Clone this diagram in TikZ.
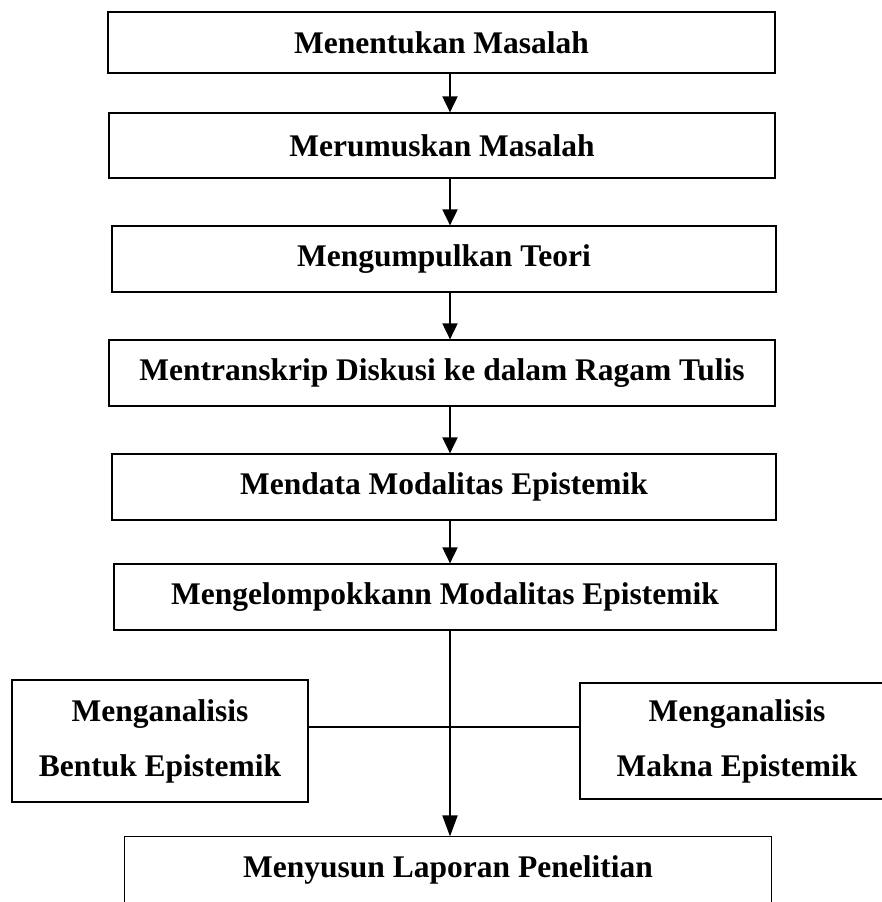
\documentclass[tikz,border=0pt]{standalone}
\usepackage{fontspec}
\setmainfont{Liberation Serif}
\usetikzlibrary{arrows.meta}
\begin{document}
\begin{tikzpicture}[x=1pt,y=-1pt,
  box/.style={draw=black, line width=1.2pt, inner sep=0pt, font=\fontsize{31.5}{55}\selectfont\bfseries, align=center},
  boxl/.style={draw=black, line width=1.2pt},
  arr/.style={line width=1.9pt, -{Triangle[width=15pt,length=16pt]}},
  bigarr/.style={line width=1.9pt, -{Triangle[width=15pt,length=21pt]}},
  conn/.style={line width=1.9pt},
  ]
\useasboundingbox (0,0) rectangle (882,902);
\clip (0,0) rectangle (882,902);
\coordinate (ax) at (450,0);
\coordinate (hy) at (0,727);
\node[box, minimum width=667pt, minimum height=61pt] (b1) at (441.5,42.5) {Menentukan Masalah};
\node[box, minimum width=666pt, minimum height=65pt] (b2) at (442,145.5) {Merumuskan Masalah};
\node[box, minimum width=664pt, minimum height=66pt] (b3) at (444,259) {Mengumpulkan Teori};
\node[box, minimum width=666pt, minimum height=66pt] (b4) at (442,373) {Mentranskrip Diskusi ke dalam Ragam Tulis};
\node[box, minimum width=664pt, minimum height=66pt] (b5) at (444,487) {Mendata Modalitas Epistemik};
\node[box, minimum width=662pt, minimum height=66pt] (b6) at (445,597) {Mengelompokkann Modalitas Epistemik};
\node[box, minimum width=296pt, minimum height=122pt] (lb) at (160,741) {Menganalisis\\Bentuk Epistemik};
\node[box, minimum width=314pt, minimum height=116pt] (rb) at (737,741) {Menganalisis\\Makna Epistemik};
\node[box, draw=none, minimum width=646pt, minimum height=66pt] (b7) at (448,870) {Menyusun Laporan Penelitian};
\draw[boxl] ([yshift=-40pt]b7.south west) -- (b7.north west) -- (b7.north east) -- ([yshift=-40pt]b7.south east);
\draw[arr] (b1.south -| ax) -- (b2.north -| ax);
\draw[arr] (b2.south -| ax) -- (b3.north -| ax);
\draw[arr] (b3.south -| ax) -- (b4.north -| ax);
\draw[arr] (b4.south -| ax) -- (b5.north -| ax);
\draw[arr] (b5.south -| ax) -- (b6.north -| ax);
\draw[bigarr] (b6.south -| ax) -- (b7.north -| ax);
\draw[conn] (lb.east |- hy) -- (rb.west |- hy);
\end{tikzpicture}
\end{document}
